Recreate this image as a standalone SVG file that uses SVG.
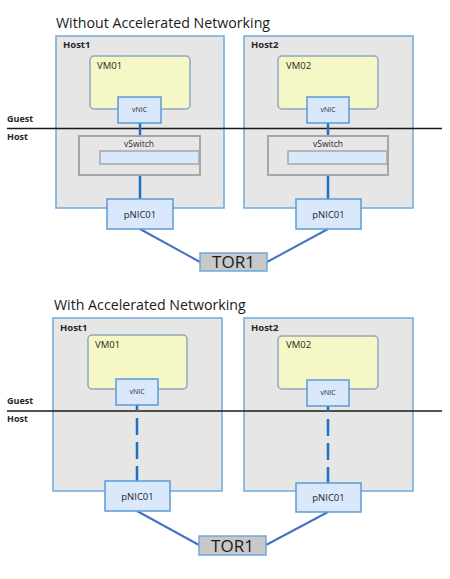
<svg xmlns="http://www.w3.org/2000/svg" width="450" height="579" viewBox="0 0 450 579">
<style>
text{font-family:"Open Sans","Noto Sans","DejaVu Sans",sans-serif;fill:#262626}
.title{font-size:14.2px;fill:#1a1a1a}
.hl{font-size:9.5px;font-weight:bold}
.gl{font-size:9px;font-weight:bold}
.vm{font-size:9.5px}
.vn{font-size:7px;text-anchor:middle}
.pn{font-size:9.5px;text-anchor:middle}
.vs{font-size:8.5px;text-anchor:middle}
.tor{font-size:17px;text-anchor:middle;fill:#1a1a1a}
.host{fill:#e6e6e6;stroke:#6fa8dc;stroke-width:1.5}
.vmb{fill:#f5f8c6;stroke:#8fa6bf;stroke-width:1.5}
.nic{fill:#dae8fc;stroke:#5b9bd5;stroke-width:1.5}
.vsw{fill:#e6e6e6;stroke:#a6a6a6;stroke-width:2}
.vsi{fill:#dae8fc;stroke:#a6a6a6;stroke-width:1.5}
.torb{fill:#c8c8c8;stroke:#6fa8dc;stroke-width:1.5}
.sep{stroke:#1a1a1a;stroke-width:1.5}
.c{stroke:#1f70c1;stroke-width:2.5;fill:none}
.cd{stroke:#1f70c1;stroke-width:2.5;fill:none;stroke-dasharray:17 7;stroke-dashoffset:11}
.ct{stroke:#4472c4;stroke-width:2;fill:none}
</style>

<text class="title" x="56" y="28">Without Accelerated Networking</text>
<text class="title" x="54" y="310">With Accelerated Networking</text>

<g id="host1-top"><rect class="host" x="56" y="36" width="168" height="172"/><text class="hl" x="63" y="48">Host1</text></g>
<g id="host2-top"><rect class="host" x="244" y="36" width="169" height="172"/><text class="hl" x="251" y="48">Host2</text></g>
<g id="host1-bot"><rect class="host" x="53" y="318" width="169" height="173"/><text class="hl" x="60" y="331">Host1</text></g>
<g id="host2-bot"><rect class="host" x="244" y="318" width="169" height="173"/><text class="hl" x="251" y="331">Host2</text></g>

<g id="sep-top"><line class="sep" x1="7" y1="128.5" x2="442" y2="128.5"/><text class="gl" x="7" y="122">Guest</text><text class="gl" x="7" y="140">Host</text></g>
<g id="sep-bot"><line class="sep" x1="7" y1="411" x2="442" y2="411"/><text class="gl" x="7" y="404">Guest</text><text class="gl" x="7" y="422">Host</text></g>

<g id="connectors">
<line class="c" x1="140" y1="123" x2="140" y2="136"/>
<line class="c" x1="140" y1="175" x2="140" y2="199"/>
<line class="c" x1="328" y1="123" x2="328" y2="136"/>
<line class="c" x1="328" y1="175" x2="328" y2="199"/>
<line class="ct" x1="140" y1="229" x2="200" y2="262"/>
<line class="ct" x1="328" y1="229" x2="267" y2="262"/>
<line class="cd" x1="137" y1="405" x2="137" y2="481"/>
<line class="cd" x1="328" y1="406" x2="328" y2="483"/>
<line class="ct" x1="137" y1="511" x2="199" y2="545"/>
<line class="ct" x1="328" y1="512" x2="266" y2="545"/>
</g>

<g id="vm01-top"><rect class="vmb" x="90" y="56" width="100" height="53" rx="4"/><text class="vm" x="97" y="69">VM01</text></g>
<g id="vnic1-top"><rect class="nic" x="118" y="97" width="43" height="26"/><text class="vn" x="139.5" y="112">vNIC</text></g>
<g id="vm02-top"><rect class="vmb" x="278" y="56" width="100" height="53" rx="4"/><text class="vm" x="286" y="69">VM02</text></g>
<g id="vnic2-top"><rect class="nic" x="307" y="97" width="42" height="26"/><text class="vn" x="328" y="112">vNIC</text></g>

<g id="vswitch1"><rect class="vsw" x="79" y="136" width="121" height="39"/><rect class="vsi" x="100" y="151" width="99" height="13"/><text class="vs" x="139" y="147">vSwitch</text></g>
<g id="vswitch2"><rect class="vsw" x="268" y="136" width="120" height="39"/><rect class="vsi" x="288" y="151" width="99" height="13"/><text class="vs" x="328" y="147">vSwitch</text></g>

<g id="pnic1-top"><rect class="nic" x="107" y="199" width="66" height="30"/><text class="pn" x="140" y="218">pNIC01</text></g>
<g id="pnic2-top"><rect class="nic" x="296" y="199" width="65" height="30"/><text class="pn" x="328.5" y="218">pNIC01</text></g>
<g id="tor-top"><rect class="torb" x="200" y="253" width="67" height="18"/><text class="tor" x="233.5" y="268">TOR1</text></g>

<g id="vm01-bot"><rect class="vmb" x="88" y="335" width="99" height="54" rx="4"/><text class="vm" x="95" y="348">VM01</text></g>
<g id="vnic1-bot"><rect class="nic" x="116" y="379" width="42" height="26"/><text class="vn" x="137" y="394">vNIC</text></g>
<g id="vm02-bot"><rect class="vmb" x="278" y="336" width="100" height="53" rx="4"/><text class="vm" x="286" y="348">VM02</text></g>
<g id="vnic2-bot"><rect class="nic" x="307" y="380" width="42" height="26"/><text class="vn" x="328" y="395">vNIC</text></g>

<g id="pnic1-bot"><rect class="nic" x="105" y="481" width="65" height="30"/><text class="pn" x="137.5" y="500">pNIC01</text></g>
<g id="pnic2-bot"><rect class="nic" x="296" y="483" width="65" height="29"/><text class="pn" x="328.5" y="501">pNIC01</text></g>
<g id="tor-bot"><rect class="torb" x="199" y="536" width="67" height="19"/><text class="tor" x="232.5" y="552">TOR1</text></g>
</svg>
